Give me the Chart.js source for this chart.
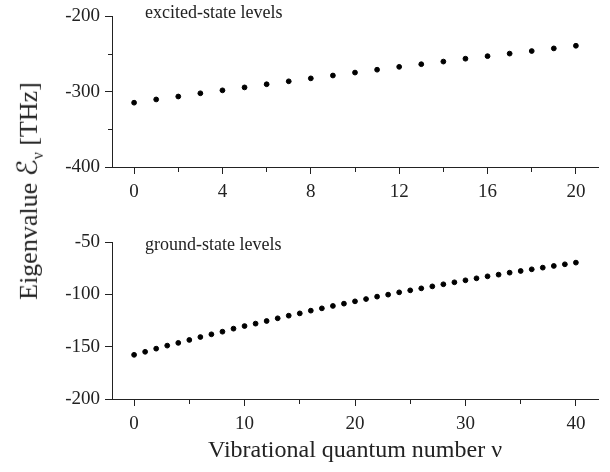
<!DOCTYPE html>
<html>
<head>
<meta charset="utf-8">
<script src="https://cdn.jsdelivr.net/npm/chart.js@4"></script>
<style>
  body { margin: 0; background: #fff; }
  #wrap { position: relative; width: 610px; height: 472px; font-family: "Liberation Serif", "DejaVu Serif", serif; color: #222; }
  canvas { position: absolute; left: 0; }
  .note { position: absolute; left: 145px; font-size: 18px; line-height: 18px; white-space: nowrap; }
  #ylab { position: absolute; left: 29px; top: 191px; font-size: 26px; white-space: nowrap;
          transform: translate(-50%, -50%) rotate(-90deg); }
  #ylab .sc { font-family: "DejaVu Serif", "DejaVu Sans", serif; font-style: italic; font-size: 28px; }
  #ylab sub { font-size: 16px; }
</style>
</head>
<body>
<div id="wrap">
  <canvas id="topChart" width="610" height="215" style="top:0"></canvas>
  <canvas id="botChart" width="610" height="257" style="top:215px"></canvas>
  <div class="note" style="top:3px">excited-state levels</div>
  <div class="note" style="top:235px">ground-state levels</div>
  <div id="ylab">Eigenvalue <span class="sc">ℰ</span><sub>ν</sub> [THz]</div>
</div>
<script>
// excited-state levels, v = 0..20 (THz)
const excitedV = [0, 1, 2, 3, 4, 5, 6, 7, 8, 9, 10, 11, 12, 13, 14, 15, 16, 17, 18, 19, 20];
const excitedE = [-314.6, -310.3, -306.4, -302.1, -298.2, -294.3, -290.1, -286.2, -282.3, -278.5, -274.6,
                  -270.8, -267.0, -263.5, -260.0, -256.2, -252.8, -249.4, -246.0, -242.5, -239.0];

// ground-state levels, v = 0..40 (THz)
const groundV = [0, 1, 2, 3, 4, 5, 6, 7, 8, 9, 10, 11, 12, 13, 14, 15, 16, 17, 18, 19, 20,
                 21, 22, 23, 24, 25, 26, 27, 28, 29, 30, 31, 32, 33, 34, 35, 36, 37, 38, 39, 40];
const groundE = [-157.8, -154.9, -151.9, -149.0, -146.4, -143.6, -140.8, -138.2, -135.7, -132.8, -130.3,
                 -128.0, -125.5, -122.9, -120.4, -118.2, -115.6, -113.4, -111.1, -108.9, -106.7,
                 -104.5, -102.2, -100.3, -98.1, -96.2, -94.3, -92.4, -90.4, -88.5, -86.6,
                 -84.7, -82.8, -81.2, -79.3, -77.7, -76.1, -74.5, -72.9, -71.3, -69.7];

// tick positions and which of them carry a label
const topXTicks = [0, 2, 4, 6, 8, 10, 12, 14, 16, 18, 20];
const topXLabels = [0, 4, 8, 12, 16, 20];
const topYTicks = [-400, -350, -300, -250, -200];
const topYLabels = [-400, -300, -200];
const botXTicks = [0, 5, 10, 15, 20, 25, 30, 35, 40];
const botXLabels = [0, 10, 20, 30, 40];
const botYTicks = [-200, -150, -100, -50];
const botYLabels = [-200, -150, -100, -50];

const ink = "#222";
const tickFont = { family: "Liberation Serif", size: 19 };

function toPoints(xs, ys) {
  return xs.map((x, i) => ({ x: x, y: ys[i] }));
}

// build one axis; minor ticks are drawn shorter with a dash pattern
function axis(min, max, ticks, labels, isX, size) {
  return {
    type: "linear",
    min: min,
    max: max,
    afterBuildTicks: (s) => { s.ticks = ticks.map((v) => ({ value: v })); },
    afterFit: (s) => { if (isX) s.height = size; else s.width = size; },
    border: { display: true, color: ink, width: 1 },
    grid: {
      drawOnChartArea: false,
      drawTicks: true,
      tickLength: 7,
      tickColor: ink,
      tickWidth: 1,
      tickBorderDash: (c) => {
        if (!c.tick || labels.includes(c.tick.value)) return [];
        return isX ? [4, 20] : [0, 3, 4, 20];
      },
    },
    ticks: {
      autoSkip: false,
      maxRotation: 0,
      padding: isX ? 7 : 5,
      color: ink,
      font: tickFont,
      callback: (v) => (labels.includes(v) ? String(v) : ""),
    },
  };
}

// top panel: excited-state levels
new Chart(document.getElementById("topChart"), {
  type: "scatter",
  data: {
    datasets: [{
      data: toPoints(excitedV, excitedE),
      backgroundColor: "#000",
      borderColor: "#000",
      pointRadius: 2.4,
      pointHoverRadius: 2.4,
    }],
  },
  options: {
    responsive: false,
    animation: false,
    devicePixelRatio: 1,
    layout: { padding: { top: 11, right: 12, left: 0, bottom: 0 } },
    plugins: { legend: { display: false }, tooltip: { enabled: false } },
    scales: {
      x: axis(-1, 21, topXTicks, topXLabels, true, 48),
      y: axis(-400, -200, topYTicks, topYLabels, false, 112),
    },
  },
});

// bottom panel: ground-state levels
const botX = axis(-2, 42, botXTicks, botXLabels, true, 73);
botX.title = {
  display: true,
  text: "Vibrational quantum number ν",
  color: ink,
  font: { family: "Liberation Serif", size: 24 },
  padding: { top: 4, bottom: 7 },
};

new Chart(document.getElementById("botChart"), {
  type: "scatter",
  data: {
    datasets: [{
      data: toPoints(groundV, groundE),
      backgroundColor: "#000",
      borderColor: "#000",
      pointRadius: 2.4,
      pointHoverRadius: 2.4,
    }],
  },
  options: {
    responsive: false,
    animation: false,
    devicePixelRatio: 1,
    layout: { padding: { top: 27, right: 12, left: 0, bottom: 0 } },
    plugins: { legend: { display: false }, tooltip: { enabled: false } },
    scales: {
      x: botX,
      y: axis(-200, -50, botYTicks, botYLabels, false, 112),
    },
  },
});
</script>
</body>
</html>
